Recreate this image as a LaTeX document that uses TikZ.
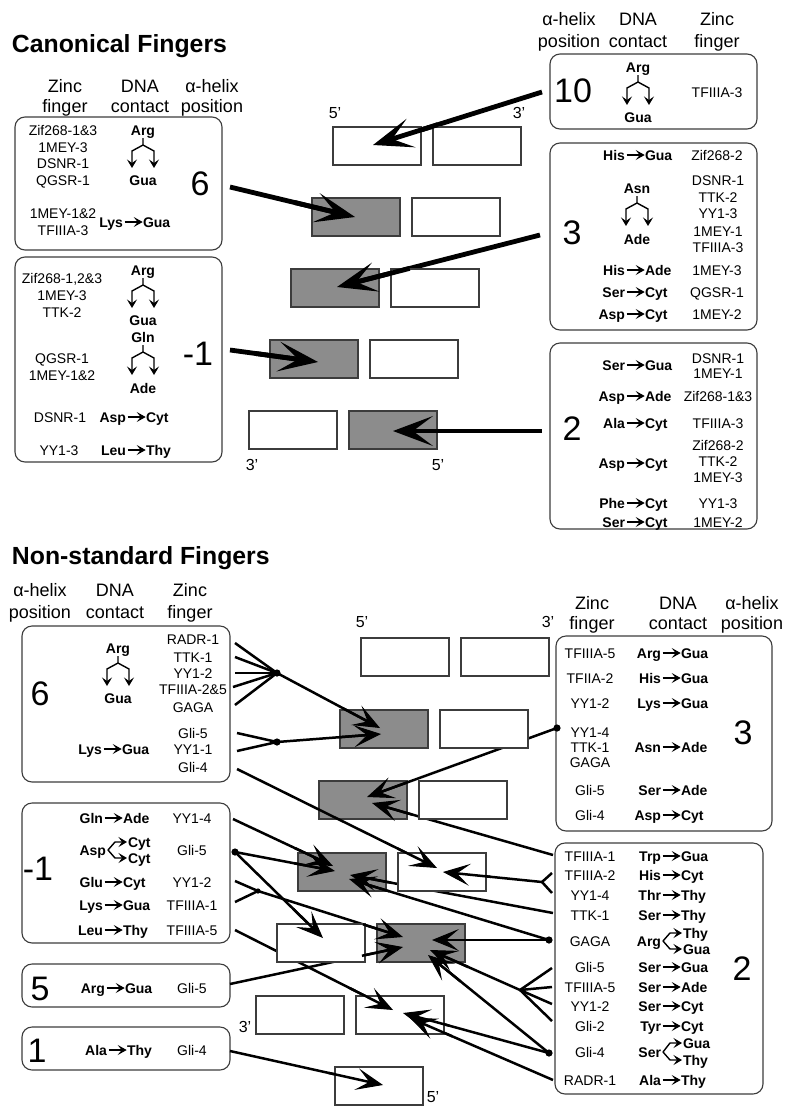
\documentclass[tikz,border=0pt]{standalone}
\usepackage{fontspec}
\setmainfont{Liberation Sans}
\usetikzlibrary{arrows.meta,calc,fit}
\definecolor{dnagrey}{RGB}{140,140,140}
\definecolor{edge}{RGB}{60,60,60}
\newcount\nodeno
\tikzset{
 every node/.style={inner sep=0pt, outer sep=0pt},
 ttl/.style={font=\fontsize{24.8}{28}\selectfont\bfseries, anchor=west, text height=17.8pt, text depth=0pt},
 hdr/.style={font=\fontsize{18}{21}\selectfont, text height=12.9pt, text depth=0pt},
 fn/.style={font=\fontsize{14}{16}\selectfont, text height=10pt, text depth=0pt},
 ctx/.style={font=\fontsize{14}{16}\selectfont\bfseries, text height=10pt, text depth=0pt},
 big/.style={font=\fontsize{34}{38}\selectfont, text height=24.4pt, text depth=0pt},
 lab/.style={font=\fontsize{16}{18}\selectfont, text height=11.5pt, text depth=0pt},
 grp/.style={draw=edge, line width=1.1pt, rounded corners=10pt},
 dnaw/.style={draw=edge, fill=white, line width=1.1pt, minimum width=88pt, minimum height=38pt},
 dnag/.style={dnaw, fill=dnagrey},
 carr/.style={line width=1.5pt, -{Stealth[length=9pt,width=10pt,inset=4pt]}},
 fk/.style={line width=1.4pt},
 fka/.style={fk, -{Stealth[length=8.5pt,width=10pt,inset=3.5pt]}},
 tline/.style={line width=4.8pt, shorten >=18pt},
 thead/.style={line width=4.8pt, -{Stealth[length=40pt,width=30pt,inset=20pt,line width=1.5pt]}},
 bline/.style={line width=2.5pt, shorten >=12pt},
 bhead/.style={line width=2.5pt, -{Stealth[length=27pt,width=22pt,inset=13pt,line width=1pt]}},
}
\newcommand\Tx[4][fn]{\global\advance\nodeno by 1 \node[#1] (t\the\nodeno) at (#2,#3) {#4};}
\newcommand\CTx[4]{\global\advance\nodeno by 1
 \node[ctx,anchor=east] (ca\the\nodeno) at ($(#1,#2)+(-10,0)$) {#3};
 \node[ctx,anchor=west] (cb\the\nodeno) at ($(#1,#2)+(10,0)$) {#4};
 \draw[carr] ([xshift=1.5pt]ca\the\nodeno.east) -- ([xshift=-0.3pt]cb\the\nodeno.west);}
\newcommand\VFk[2]{%
 \draw[fka] ($(#1,#2)+(0,8)$) -- ++(0,7) -- ++(-11,6) -- ++(0,17);
 \draw[fka] ($(#1,#2)+(0,15)$) -- ++(11,6) -- ++(0,17);}
\newcommand\SFk[4]{%
 \draw[fka] (#1,#2) -- (#1+7,#3) -- (#1+19,#3);
 \draw[fka] (#1,#2) -- (#1+7,#4) -- (#1+19,#4);}
\newcommand\BHd[3][42]{\draw[bhead] ($(#3)!#1pt!(#2)$) -- (#3);}
\newcommand\THd[3][62]{\draw[thead] ($(#3)!#1pt!(#2)$) -- (#3);}
\newcommand\Qt{\char"27}
\begin{document}
\begin{tikzpicture}[x=1pt,y=-1pt]
\fill[white] (0,0) rectangle (785,1106);
\useasboundingbox (0,0) rectangle (785,1106);

% ---------- group boxes ----------
\node[grp, fit={(15,117) (222,250)}] (g1) {};
\node[grp, fit={(15,257) (222,462)}] (g2) {};
\node[grp, fit={(550,54) (757,129)}] (g3) {};
\node[grp, fit={(550,143) (757,330)}] (g4) {};
\node[grp, fit={(550,343) (757,529)}] (g5) {};
\node[grp, fit={(22,626) (230,782)}] (g6) {};
\node[grp, fit={(22,803) (230,943)}] (g7) {};
\node[grp, fit={(22,964) (230,1007)}] (g8) {};
\node[grp, fit={(22,1027) (230,1070)}] (g9) {};
\node[grp, fit={(556,636) (772,831)}] (g10) {};
\node[grp, fit={(555,843) (763,1094)}] (g11) {};

% ---------- grey DNA boxes ----------
\node[dnag] (tg1) at (356,217) {};
\node[dnag] (tg2) at (335,288) {};
\node[dnag] (tg3) at (314,359) {};
\node[dnag] (tg4) at (393,430) {};
\node[dnag] (bg1) at (384,729) {};
\node[dnag] (bg2) at (363,800) {};
\node[dnag] (bg3) at (342,872) {};
\node[dnag] (bg4) at (421,943) {};

% ---------- coordinates ----------
\coordinate (s10) at (542,92);  \coordinate (e10) at (373,145);
\coordinate (s6) at (230,187);  \coordinate (e6) at (355,217);
\coordinate (s3) at (540,235);  \coordinate (e3) at (337,287);
\coordinate (sm1) at (230,350); \coordinate (em1) at (318,362);
\coordinate (s2) at (542,431);  \coordinate (e2) at (393,431);

\coordinate (a1) at (235,643); \coordinate (a2) at (235,657); \coordinate (a3) at (235,673);
\coordinate (a4) at (233,687); \coordinate (a5) at (235,705);
\coordinate (V1) at (277,673); \coordinate (T21) at (380,728);
\coordinate (b1) at (237,733); \coordinate (b2) at (237,751);
\coordinate (V2) at (277,742); \coordinate (T22) at (381,734);
\coordinate (c1) at (237,769); \coordinate (T41w) at (437,868);
\coordinate (D3) at (557,728); \coordinate (T31) at (367,797);
\coordinate (r1) at (553,855); \coordinate (T32) at (372,803);
\coordinate (d1) at (233,819); \coordinate (T41) at (333,866);
\coordinate (D1) at (235,852); \coordinate (T42) at (335,871); \coordinate (T51w) at (323,938);
\coordinate (r2) at (552,873); \coordinate (r3) at (552,893);
\coordinate (F2) at (542,882); \coordinate (T42w) at (443,872);
\coordinate (r4) at (553,913); \coordinate (T43) at (350,875);
\coordinate (DG) at (549,940); \coordinate (T44) at (349,879); \coordinate (T52) at (432,940);
\coordinate (d2) at (235,881); \coordinate (d3) at (235,902);
\coordinate (F1) at (258,891); \coordinate (T53) at (403,937);
\coordinate (d5) at (230,984); \coordinate (T54) at (403,947);
\coordinate (r5) at (552,968); \coordinate (r6) at (552,987); \coordinate (r7) at (552,1004); \coordinate (r8) at (552,1021);
\coordinate (F3) at (520,990); \coordinate (T55) at (430,950);
\coordinate (DG4) at (549,1053); \coordinate (T56) at (428,955); \coordinate (T61) at (403,1013);
\coordinate (r9) at (553,1080); \coordinate (T62) at (410,1018);
\coordinate (d4) at (235,930); \coordinate (T63) at (393,1010);
\coordinate (d6) at (230,1051); \coordinate (T71) at (383,1085);

% ---------- connector lines ----------
\draw[tline] (s10) -- (e10);
\draw[tline] (s6) -- (e6);
\draw[tline] (s3) -- (e3);
\draw[tline] (sm1) -- (em1);
\draw[tline] (s2) -- (e2);

\foreach \p in {a1,a2,a3,a4,a5} \draw[line width=2.5pt] (\p) -- (V1);
\draw[bline] (V1) -- (T21);
\foreach \p in {b1,b2} \draw[line width=2.5pt] (\p) -- (V2);
\draw[bline] (V2) -- (T22);
\draw[bline] (c1) -- (T41w);
\draw[bline] (D3) -- (T31);
\draw[bline] (r1) -- (T32);
\draw[bline] (d1) -- (T41);
\draw[bline] (D1) -- (T42);
\draw[bline] (D1) -- (T51w);
\foreach \p in {r2,r3} \draw[line width=2.5pt] (\p) -- (F2);
\draw[bline] (F2) -- (T42w);
\draw[bline] (r4) -- (T43);
\draw[bline] (DG) -- (T44);
\draw[bline] (DG) -- (T52);
\foreach \p in {d2,d3} \draw[line width=2.5pt] (\p) -- (F1);
\draw[bline] (F1) -- (T53);
\draw[bline] (d5) -- (T54);
\foreach \p in {r5,r6,r7,r8} \draw[line width=2.5pt] (\p) -- (F3);
\draw[bline] (F3) -- (T55);
\draw[bline] (DG4) -- (T56);
\draw[bline] (DG4) -- (T61);
\draw[bline] (r9) -- (T62);
\draw[bline] (d4) -- (T63);
\draw[bline] (d6) -- (T71);

% ---------- white DNA boxes ----------
\node[dnaw] (tw1) at (377,146) {};
\node[dnaw] (tw2) at (477,146) {};
\node[dnaw] (tw3) at (456,217) {};
\node[dnaw] (tw4) at (435,288) {};
\node[dnaw] (tw5) at (414,359) {};
\node[dnaw] (tw6) at (293,430) {};
\node[dnaw] (bw1) at (405,657) {};
\node[dnaw] (bw2) at (505,657) {};
\node[dnaw] (bw3) at (484,729) {};
\node[dnaw] (bw4) at (463,800) {};
\node[dnaw] (bw5) at (442,872) {};
\node[dnaw] (bw6) at (321,943) {};
\node[dnaw] (bw7) at (300,1015) {};
\node[dnaw] (bw8) at (400,1015) {};
\node[dnaw] (bw9) at (379,1086) {};

% ---------- arrow heads ----------
\THd[68]{s10}{e10}
\THd{s6}{e6}
\THd[75]{s3}{e3}
\THd{sm1}{em1}
\THd{s2}{e2}

\BHd{V1}{T21}
\BHd{V2}{T22}
\BHd[44]{c1}{T41w}
\BHd{D3}{T31}
\BHd{r1}{T32}
\BHd{d1}{T41}
\BHd{D1}{T42}
\BHd{D1}{T51w}
\BHd[48]{F2}{T42w}
\BHd{r4}{T43}
\BHd{DG}{T44}
\BHd{DG}{T52}
\BHd{F1}{T53}
\BHd{d5}{T54}
\BHd{F3}{T55}
\BHd{DG4}{T56}
\BHd[48]{DG4}{T61}
\BHd[46]{r9}{T62}
\BHd[48]{d4}{T63}
\BHd[56]{d6}{T71}

% dots
\foreach \p in {V1,V2,D3,D1,DG,DG4} \fill (\p) circle (3.6pt);
\fill (F1) circle (2.6pt);

% ---------- 5'/3' labels ----------
\node[lab] (l1) at (335,113) {5\Qt};
\node[lab] (l2) at (519,113) {3\Qt};
\node[lab] (l3) at (252,465) {3\Qt};
\node[lab] (l4) at (438,465) {5\Qt};
\node[lab] (l5) at (362,622) {5\Qt};
\node[lab] (l6) at (548,622) {3\Qt};
\node[lab] (l7) at (245,1027) {3\Qt};
\node[lab] (l8) at (433,1097) {5\Qt};

% ---------- titles and headers ----------
\node[ttl] (title1) at (12,44) {Canonical Fingers};
\node[ttl] (title2) at (12,556) {Non-standard Fingers};

\Tx[hdr]{65}{86}{Zinc} \Tx[hdr]{65}{106}{finger}
\Tx[hdr]{140}{86}{DNA} \Tx[hdr]{140}{106}{contact}
\Tx[hdr]{212}{86}{α-helix} \Tx[hdr]{212}{106}{position}

\Tx[hdr]{569}{19}{α-helix} \Tx[hdr]{569}{41}{position}
\Tx[hdr]{638}{19}{DNA} \Tx[hdr]{638}{41}{contact}
\Tx[hdr]{717}{19}{Zinc} \Tx[hdr]{717}{41}{finger}

\Tx[hdr]{40}{590}{α-helix} \Tx[hdr]{40}{612}{position}
\Tx[hdr]{115}{590}{DNA} \Tx[hdr]{115}{612}{contact}
\Tx[hdr]{190}{590}{Zinc} \Tx[hdr]{190}{612}{finger}

\Tx[hdr]{592}{603}{Zinc} \Tx[hdr]{592}{623}{finger}
\Tx[hdr]{678}{603}{DNA} \Tx[hdr]{678}{623}{contact}
\Tx[hdr]{752}{603}{α-helix} \Tx[hdr]{752}{623}{position}

% ---------- top-left box 1 ----------
\Tx{63}{130}{Zif268-1\&3}
\Tx{63}{147}{1MEY-3}
\Tx{63}{163}{DSNR-1}
\Tx{63}{180}{QGSR-1}
\Tx{63}{213}{1MEY-1\&2}
\Tx{63}{230}{TFIIIA-3}
\Tx[ctx]{143}{130}{Arg} \VFk{143}{130} \Tx[ctx]{143}{180}{Gua}
\CTx{133}{222}{Lys}{Gua}
\node[big] (n6a) at (200,183) {6};

% ---------- top-left box 2 ----------
\Tx{62}{278}{Zif268-1,2\&3}
\Tx{62}{295}{1MEY-3}
\Tx{62}{312}{TTK-2}
\Tx{62}{358}{QGSR-1}
\Tx{62}{375}{1MEY-1\&2}
\Tx{60}{417}{DSNR-1}
\Tx{59}{450}{YY1-3}
\Tx[ctx]{143}{270}{Arg} \VFk{143}{270} \Tx[ctx]{143}{320}{Gua}
\Tx[ctx]{143}{337}{Gln} \VFk{143}{337} \Tx[ctx]{143}{388}{Ade}
\CTx{136}{417}{Asp}{Cyt}
\CTx{136}{450}{Leu}{Thy}
\node[big] (nm1a) at (198,353) {-1};

% ---------- top-right box 10 ----------
\node[big] (n10) at (573,90) {10};
\Tx[ctx]{638}{67}{Arg} \VFk{638}{67} \Tx[ctx]{638}{117}{Gua}
\Tx{717}{92}{TFIIIA-3}

% ---------- top-right box 3 ----------
\node[big] (n3a) at (572,232) {3};
\CTx{635}{155}{His}{Gua} \Tx{717}{155}{Zif268-2}
\Tx[ctx]{637}{188}{Asn} \VFk{637}{188} \Tx[ctx]{637}{239}{Ade}
\Tx{718}{180}{DSNR-1}
\Tx{718}{197}{TTK-2}
\Tx{718}{213}{YY1-3}
\Tx{718}{231}{1MEY-1}
\Tx{718}{247}{TFIIIA-3}
\CTx{635}{270}{His}{Ade} \Tx{717}{270}{1MEY-3}
\CTx{635}{292}{Ser}{Cyt} \Tx{717}{292}{QGSR-1}
\CTx{635}{314}{Asp}{Cyt} \Tx{717}{314}{1MEY-2}

% ---------- top-right box 2 ----------
\node[big] (n2a) at (572,428) {2};
\CTx{635}{365}{Ser}{Gua} \Tx{718}{358}{DSNR-1} \Tx{718}{373}{1MEY-1}
\CTx{635}{396}{Asp}{Ade} \Tx{718}{396}{Zif268-1\&3}
\CTx{635}{423}{Ala}{Cyt} \Tx{718}{423}{TFIIIA-3}
\CTx{635}{463}{Asp}{Cyt} \Tx{718}{445}{Zif268-2} \Tx{718}{461}{TTK-2} \Tx{718}{477}{1MEY-3}
\CTx{635}{503}{Phe}{Cyt} \Tx{718}{503}{YY1-3}
\CTx{635}{522}{Ser}{Cyt} \Tx{718}{522}{1MEY-2}

% ---------- bottom-left box 6 ----------
\node[big] (n6b) at (40,693) {6};
\Tx[ctx]{118}{648}{Arg} \VFk{118}{648} \Tx[ctx]{118}{698}{Gua}
\Tx{193}{639}{RADR-1}
\Tx{193}{657}{TTK-1}
\Tx{193}{673}{YY1-2}
\Tx{193}{689}{TFIIIA-2\&5}
\Tx{193}{707}{GAGA}
\Tx{193}{733}{Gli-5}
\Tx{193}{749}{YY1-1}
\Tx{193}{767}{Gli-4}
\CTx{112}{749}{Lys}{Gua}

% ---------- bottom-left box -1 ----------
\node[big] (nm1b) at (38,868) {-1};
\CTx{113}{818}{Gln}{Ade} \Tx{192}{818}{YY1-4}
\node[ctx,anchor=east] (asp1) at (106,850) {Asp};
\SFk{108}{850}{842}{858}
\node[ctx,anchor=west] (cyt1) at (128,842) {Cyt};
\node[ctx,anchor=west] (cyt2) at (128,858) {Cyt};
\Tx{192}{850}{Gli-5}
\CTx{113}{882}{Glu}{Cyt} \Tx{192}{882}{YY1-2}
\CTx{113}{905}{Lys}{Gua} \Tx{192}{905}{TFIIIA-1}
\CTx{113}{930}{Leu}{Thy} \Tx{192}{930}{TFIIIA-5}

% ---------- bottom-left boxes 5 and 1 ----------
\node[big] (n5) at (40,988) {5};
\CTx{115}{988}{Arg}{Gua} \Tx{192}{988}{Gli-5}
\node[big] (n1) at (37,1050) {1};
\CTx{117}{1050}{Ala}{Thy} \Tx{192}{1050}{Gli-4}

% ---------- bottom-right box 3 ----------
\node[big] (n3b) at (743,732) {3};
\Tx{590}{653}{TFIIIA-5} \CTx{671}{653}{Arg}{Gua}
\Tx{590}{678}{TFIIA-2} \CTx{671}{678}{His}{Gua}
\Tx{590}{703}{YY1-2} \CTx{671}{703}{Lys}{Gua}
\Tx{590}{732}{YY1-4} \Tx{590}{747}{TTK-1} \Tx{590}{762}{GAGA} \CTx{671}{747}{Asn}{Ade}
\Tx{590}{790}{Gli-5} \CTx{671}{790}{Ser}{Ade}
\Tx{590}{815}{Gli-4} \CTx{671}{815}{Asp}{Cyt}

% ---------- bottom-right box 2 ----------
\node[big] (n2b) at (742,968) {2};
\Tx{590}{856}{TFIIIA-1} \CTx{671}{856}{Trp}{Gua}
\Tx{590}{875}{TFIIIA-2} \CTx{671}{875}{His}{Cyt}
\Tx{590}{895}{YY1-4} \CTx{671}{895}{Thr}{Thy}
\Tx{590}{915}{TTK-1} \CTx{671}{915}{Ser}{Thy}
\Tx{590}{941}{GAGA}
\node[ctx,anchor=east] (arg2) at (661,941) {Arg};
\SFk{663}{941}{933}{949}
\node[ctx,anchor=west] (thy2) at (683,933) {Thy};
\node[ctx,anchor=west] (gua2) at (683,949) {Gua};
\Tx{590}{967}{Gli-5} \CTx{671}{967}{Ser}{Gua}
\Tx{590}{987}{TFIIIA-5} \CTx{671}{987}{Ser}{Ade}
\Tx{590}{1006}{YY1-2} \CTx{671}{1006}{Ser}{Cyt}
\Tx{590}{1026}{Gli-2} \CTx{671}{1026}{Tyr}{Cyt}
\Tx{590}{1052}{Gli-4}
\node[ctx,anchor=east] (ser2) at (661,1052) {Ser};
\SFk{663}{1052}{1043}{1060}
\node[ctx,anchor=west] (gua3) at (683,1043) {Gua};
\node[ctx,anchor=west] (thy3) at (683,1060) {Thy};
\Tx{590}{1080}{RADR-1} \CTx{671}{1080}{Ala}{Thy}
\end{tikzpicture}
\end{document}
